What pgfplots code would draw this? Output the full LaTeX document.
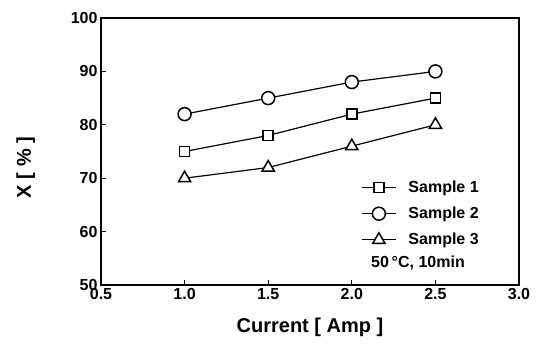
\documentclass[border=0pt]{standalone}
\usepackage{fontspec}
\setmainfont{Liberation Sans}
\usepackage{pgfplots}
\pgfplotsset{compat=1.18}
\usetikzlibrary{calc}
\begin{document}
\begin{tikzpicture}
\begin{axis}[
  scale only axis,
  width=418pt, height=267pt,
  xmin=0.5, xmax=3.0, ymin=50, ymax=100,
  xtick={0.5,1.0,1.5,2.0,2.5,3.0},
  ytick={50,60,70,80,90,100},
  tick align=inside,
  xtick pos=bottom, ytick pos=left,
  major tick length=5pt,
  axis line style={line width=1.6pt},
  every tick/.style={line width=1.2pt, black},
  /pgf/number format/assume math mode=true,
  xticklabel style={font=\fontsize{16}{18}\selectfont\bfseries, /pgf/number format/.cd, fixed, fixed zerofill, precision=1},
  yticklabel style={font=\fontsize{16}{18}\selectfont\bfseries},
  xlabel={Current [ Amp ]},
  ylabel={X [ \% ]},
  label style={font=\fontsize{20}{22}\selectfont\bfseries},
  xlabel style={at={(rel axis cs:0.5,-0.158)}, anchor=center},
  ylabel style={at={(rel axis cs:-0.18,0.44)}, anchor=center},
  clip=false,
  legend style={at={(rel axis cs:0.615,0.405)}, anchor=north west, draw=none, fill=none,
    font=\fontsize{16}{18}\selectfont\bfseries, row sep=9pt},
  legend cell align=left,
  legend image code/.code={\draw[mark repeat=2,mark phase=2] plot coordinates {(0pt,0pt)(17pt,0pt)(34pt,0pt)}; \path (44pt,0pt);},
]
\addplot[black, line width=1.2pt, mark=square*, mark size=5pt, mark options={line width=1.5pt, fill=white}]
  coordinates {(1.0,75) (1.5,78) (2.0,82) (2.5,85)};
\addlegendentry{Sample 1}
\addplot[black, line width=1.2pt, mark=*, mark size=6.5pt, mark options={line width=1.5pt, fill=white}]
  coordinates {(1.0,82) (1.5,85) (2.0,88) (2.5,90)};
\addlegendentry{Sample 2}
\addplot[black, line width=1.2pt, mark=triangle*, mark size=7pt, mark options={line width=1.5pt, fill=white}]
  coordinates {(1.0,70) (1.5,72) (2.0,76) (2.5,80)};
\addlegendentry{Sample 3}
\node[font=\fontsize{16}{18}\selectfont\bfseries, anchor=center] at (axis cs:2.396,54.1) {50\,°C, 10min};
\end{axis}
\path ($(current axis.south west)+(-101pt,-58pt)$) rectangle ($(current axis.north east)+(23pt,18pt)$);
\end{tikzpicture}
\end{document}
